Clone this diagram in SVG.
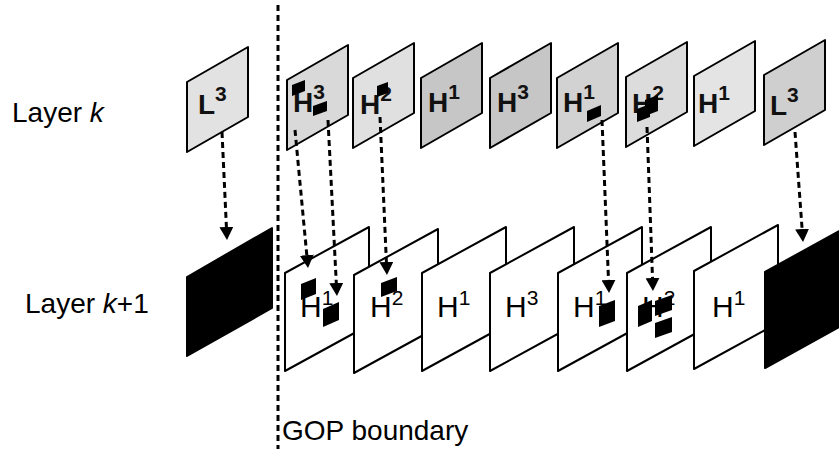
<svg xmlns="http://www.w3.org/2000/svg" width="839" height="449" viewBox="0 0 839 449">
<style>
.lbl{font-family:"Liberation Sans",Arial,sans-serif;font-size:28px;fill:#000}
.tl{font-family:"Liberation Sans",Arial,sans-serif;font-size:28px;font-weight:bold;fill:#111}
.bl{font-family:"Liberation Sans",Arial,sans-serif;font-size:30px;fill:#000}
.sup{font-size:21px}
.top{stroke:#000;stroke-width:2;stroke-linejoin:round}
.bot{fill:#fff;stroke:#000;stroke-width:2;stroke-linejoin:round}
.blk{fill:#000;stroke:#000;stroke-width:2;stroke-linejoin:round}
.mb{fill:#000}
.dash{fill:none;stroke:#000;stroke-width:3;stroke-dasharray:6 4}
</style>
<defs>
<marker id="ah" markerUnits="userSpaceOnUse" viewBox="0 -7 13 14" refX="0" refY="0" markerWidth="13" markerHeight="14" orient="auto">
<path d="M0,-7 L13,0 L0,7 Z" fill="#000"/>
</marker>
</defs>

<g id="labels">
<text class="lbl" x="12" y="122">Layer <tspan font-style="italic">k</tspan></text>
<text class="lbl" x="25" y="313">Layer <tspan font-style="italic">k</tspan>+1</text>
<text class="lbl" x="282" y="440">GOP boundary</text>
</g>

<g id="gop-boundary">
<line class="dash" x1="278" y1="5" x2="278" y2="449"/>
</g>

<!-- Layer k row -->
<g id="k-L3a">
<polygon class="top" fill="#e2e2e2" points="187,82 248,47 248,117 187,152"/>
<text class="tl" x="198" y="114">L<tspan class="sup" dy="-13">3</tspan></text>
</g>
<g id="k-H3a">
<polygon class="top" fill="#d9d9d9" points="287,80 348,45 348,115 287,150"/>
<text class="tl" x="293" y="112">H<tspan class="sup" dy="-13">3</tspan></text>
<polygon class="mb" points="292,85 305,80 305,91 292,96"/>
<polygon class="mb" points="313,106 327,101 327,111 313,116"/>
</g>
<g id="k-H2a">
<polygon class="top" fill="#e0e0e0" points="353,78 414,43 414,113 353,148"/>
<text class="tl" x="360" y="114">H<tspan class="sup" dy="-13">2</tspan></text>
<polygon class="mb" points="377,86 388,82 388,93 377,97"/>
</g>
<g id="k-H1a">
<polygon class="top" fill="#c6c6c6" points="421,78 482,43 482,113 421,148"/>
<text class="tl" x="428" y="112">H<tspan class="sup" dy="-13">1</tspan></text>
</g>
<g id="k-H3b">
<polygon class="top" fill="#c6c6c6" points="490,78 551,43 551,113 490,148"/>
<text class="tl" x="497" y="112">H<tspan class="sup" dy="-13">3</tspan></text>
</g>
<g id="k-H1b">
<polygon class="top" fill="#d2d2d2" points="557,78 618,43 618,113 557,148"/>
<text class="tl" x="563" y="112">H<tspan class="sup" dy="-13">1</tspan></text>
<polygon class="mb" points="587,111 601,105 601,116 587,122"/>
</g>
<g id="k-H2b">
<polygon class="top" fill="#dcdcdc" points="626,77 687,42 687,112 626,147"/>
<text class="tl" x="632" y="113">H<tspan class="sup" dy="-13">2</tspan></text>
<polygon class="mb" points="637,109 650,104 650,117 637,122"/>
<polygon class="mb" points="645,100 658,95 658,111 645,116"/>
</g>
<g id="k-H1c">
<polygon class="top" fill="#e4e4e4" points="694,76 755,41 755,111 694,146"/>
<text class="tl" x="698" y="113">H<tspan class="sup" dy="-13">1</tspan></text>
</g>
<g id="k-L3b">
<polygon class="top" fill="#cfcfcf" points="764,75 825,40 825,110 764,145"/>
<text class="tl" x="770" y="115">L<tspan class="sup" dy="-13">3</tspan></text>
</g>

<!-- Layer k+1 row -->
<g id="k1-L3a">
<polygon class="blk" points="187,277 272,228 272,308 187,356"/>
</g>
<g id="k1-H1a">
<polygon class="bot" points="285,273 369,227 369,325 285,371"/>
<text class="bl" x="300" y="317">H<tspan class="sup" dy="-12">1</tspan></text>
<polygon class="mb" points="301,284 316,278 316,294 301,300"/>
<polygon class="mb" points="323,309 339,302 339,320 323,327"/>
</g>
<g id="k1-H2a">
<polygon class="bot" points="354,275 438,229 438,327 354,373"/>
<text class="bl" x="370" y="317">H<tspan class="sup" dy="-12">2</tspan></text>
<polygon class="mb" points="381,283 397,277 397,291 381,297"/>
</g>
<g id="k1-H1b">
<polygon class="bot" points="422,273 506,227 506,325 422,371"/>
<text class="bl" x="437" y="317">H<tspan class="sup" dy="-12">1</tspan></text>
</g>
<g id="k1-H3a">
<polygon class="bot" points="490,273 574,227 574,325 490,371"/>
<text class="bl" x="505" y="317">H<tspan class="sup" dy="-12">3</tspan></text>
</g>
<g id="k1-H1c">
<polygon class="bot" points="558,273 642,227 642,325 558,371"/>
<text class="bl" x="573" y="317">H<tspan class="sup" dy="-12">1</tspan></text>
<polygon class="mb" points="599,306 615,300 615,321 599,327"/>
</g>
<g id="k1-H2b">
<polygon class="bot" points="627,273 711,227 711,325 627,371"/>
<text class="bl" x="642" y="317">H<tspan class="sup" dy="-12">2</tspan></text>
<polygon class="mb" points="638,306 652,300 652,321 638,327"/>
<polygon class="mb" points="655,301 672,295 672,310 655,316"/>
<polygon class="mb" points="655,323 672,317 672,332 655,338"/>
</g>
<g id="k1-H1d">
<polygon class="bot" points="694,271 778,225 778,323 694,369"/>
<text class="bl" x="712" y="317">H<tspan class="sup" dy="-12">1</tspan></text>
</g>
<g id="k1-L3b">
<polygon class="blk" points="765,272 850,225 850,321 765,368"/>
</g>

<g id="connectors">
<line class="dash" x1="222" y1="132" x2="226.4" y2="227" marker-end="url(#ah)"/>
<line class="dash" x1="295" y1="130" x2="306.8" y2="255.1" marker-end="url(#ah)"/>
<line class="dash" x1="328" y1="120" x2="336.3" y2="283" marker-end="url(#ah)"/>
<line class="dash" x1="380" y1="117" x2="386.4" y2="262" marker-end="url(#ah)"/>
<line class="dash" x1="602" y1="120" x2="608.5" y2="280" marker-end="url(#ah)"/>
<line class="dash" x1="647" y1="127" x2="652.5" y2="278" marker-end="url(#ah)"/>
<line class="dash" x1="795" y1="132" x2="802.1" y2="229" marker-end="url(#ah)"/>
</g>
</svg>
